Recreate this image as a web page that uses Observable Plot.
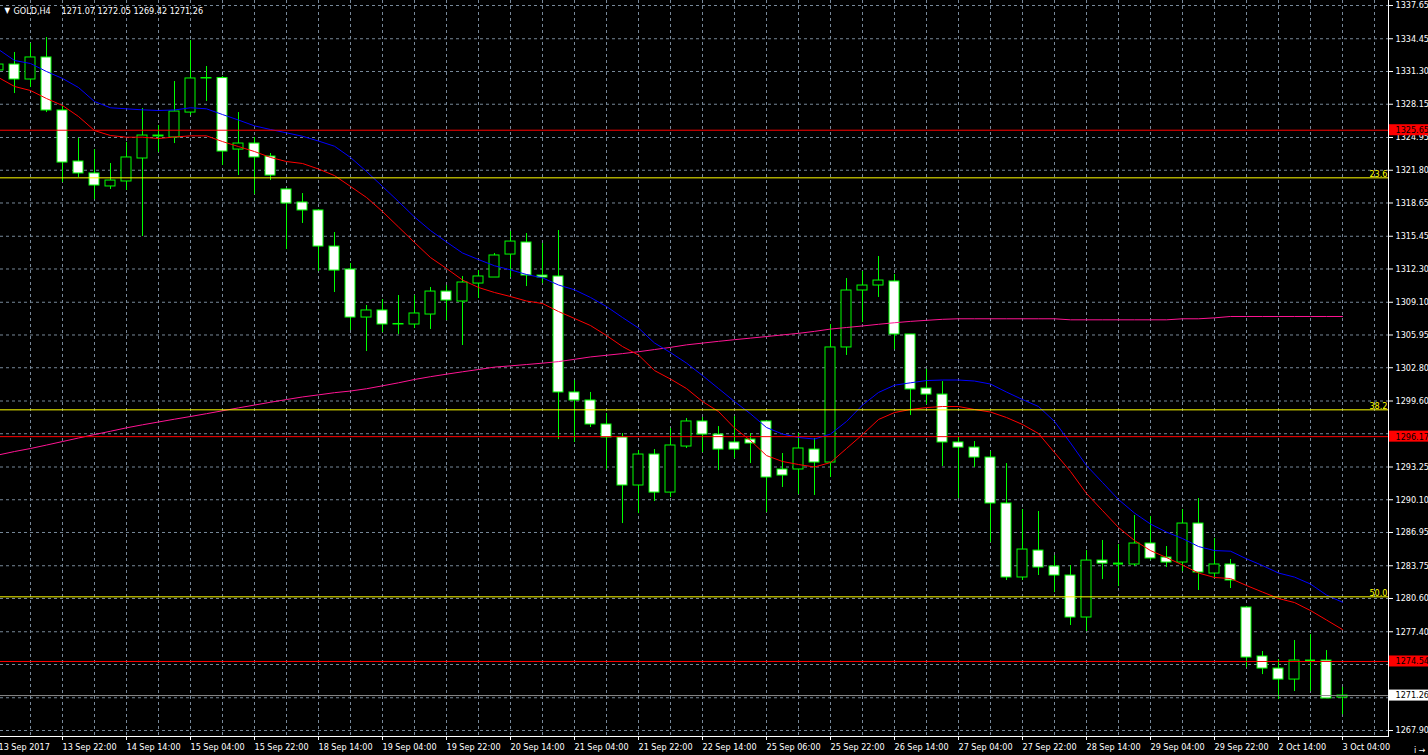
<!DOCTYPE html>
<html>
<head>
<meta charset="utf-8">
<script src="https://cdn.jsdelivr.net/npm/d3@7"></script>
<script src="https://cdn.jsdelivr.net/npm/@observablehq/plot@0.6"></script>
<style>
  html, body { margin: 0; padding: 0; background: #000; overflow: hidden; }
  #chart svg { display: block; }
</style>
</head>
<body>
<div id="chart"></div>
<script>
// ---- data (bar index -1 .. 83, 4-hour bars) ----
const opens = [1331.40,1331.97,1330.53,1332.65,1327.55,1322.64,1321.49,1320.24,1320.72,1322.93,1325.05,1324.95,1327.35,1330.63,1330.67,1323.79,1324.37,1323.12,1319.95,1318.70,1317.93,1314.46,1312.25,1307.63,1308.31,1307.01,1306.96,1307.92,1310.13,1309.17,1310.90,1311.48,1313.69,1314.85,1311.67,1311.58,1300.42,1299.65,1297.34,1296.09,1291.47,1294.45,1290.79,1295.22,1297.63,1296.37,1295.61,1295.89,1297.63,1293.01,1293.01,1294.93,1293.68,1304.75,1310.23,1310.71,1311.10,1306.00,1300.80,1300.22,1295.61,1295.12,1294.16,1289.74,1282.62,1285.21,1283.68,1282.81,1278.77,1284.25,1283.96,1283.87,1285.89,1284.54,1284.06,1287.81,1283.00,1283.87,1279.73,1275.02,1273.86,1272.80,1274.63,1274.63,1271.07];
const highs = [1332.16,1333.13,1333.99,1334.57,1327.93,1324.85,1323.79,1322.45,1324.47,1327.74,1326.10,1330.34,1334.28,1331.78,1330.82,1327.35,1324.95,1323.41,1320.04,1319.56,1318.02,1315.81,1312.83,1308.79,1309.36,1309.75,1309.75,1310.52,1310.71,1311.58,1312.15,1313.79,1315.91,1315.71,1314.75,1316.00,1301.57,1300.42,1298.40,1296.47,1294.84,1294.93,1296.95,1297.91,1298.01,1297.14,1298.11,1296.47,1297.72,1294.55,1296.47,1295.99,1306.96,1311.38,1312.06,1313.50,1311.77,1306.00,1302.63,1301.47,1296.09,1295.70,1294.74,1293.58,1289.16,1288.97,1284.73,1283.77,1285.21,1286.18,1285.79,1288.58,1288.49,1285.60,1289.16,1290.22,1286.37,1284.35,1279.83,1275.50,1274.73,1276.56,1277.13,1275.59,1272.05];
const lows = [1331.11,1329.18,1329.76,1327.35,1320.62,1321.10,1318.98,1319.95,1319.85,1315.42,1323.51,1324.37,1327.07,1328.41,1322.26,1321.29,1319.47,1320.81,1314.17,1316.68,1312.06,1310.04,1306.38,1304.36,1306.19,1306.00,1306.57,1306.48,1307.34,1304.94,1309.46,1311.48,1311.48,1310.61,1310.90,1295.89,1295.61,1297.05,1293.01,1287.81,1288.77,1289.93,1290.31,1295.03,1294.64,1292.91,1294.07,1293.58,1288.87,1291.28,1290.60,1290.51,1292.24,1303.98,1307.15,1309.56,1304.55,1298.20,1299.26,1293.30,1290.22,1293.20,1285.98,1282.33,1282.33,1282.81,1281.17,1278.00,1277.42,1282.42,1281.75,1283.68,1284.25,1283.58,1283.19,1281.37,1282.52,1281.56,1273.96,1273.28,1270.88,1271.65,1271.65,1270.98,1269.42];
const closes = [1331.97,1330.53,1332.65,1327.55,1322.54,1321.49,1320.33,1320.81,1323.03,1325.14,1325.14,1327.45,1330.63,1330.67,1323.60,1324.37,1323.03,1321.29,1318.60,1317.93,1314.46,1312.15,1307.63,1308.31,1306.96,1306.96,1308.02,1310.13,1309.27,1311.00,1311.58,1313.60,1314.94,1311.67,1311.48,1300.42,1299.65,1297.34,1296.09,1291.47,1294.45,1290.79,1295.32,1297.63,1296.37,1294.93,1294.93,1295.51,1292.24,1292.43,1295.03,1293.68,1304.75,1310.23,1310.71,1311.19,1306.00,1300.71,1300.22,1295.61,1295.12,1294.16,1289.74,1282.62,1285.31,1283.58,1282.81,1278.77,1284.25,1283.96,1283.96,1285.89,1284.45,1284.06,1287.81,1283.10,1283.87,1282.33,1274.92,1273.86,1272.80,1274.63,1274.63,1270.98,1271.26];

// moving averages read per bar
const maRed = [1330.72,1329.86,1329.47,1328.70,1328.03,1326.97,1325.62,1325.14,1324.98,1324.98,1324.85,1325.00,1325.11,1325.11,1324.56,1324.08,1323.60,1323.03,1322.64,1322.45,1321.92,1321.29,1320.24,1319.18,1317.83,1316.34,1314.85,1313.40,1312.35,1311.24,1310.52,1310.04,1309.65,1309.22,1308.98,1308.21,1307.54,1306.86,1305.90,1304.84,1304.02,1302.53,1301.71,1300.80,1299.55,1298.59,1297.00,1295.80,1294.35,1293.78,1293.49,1293.25,1293.68,1295.03,1296.37,1297.82,1298.49,1298.78,1298.97,1299.07,1299.07,1298.78,1298.54,1298.01,1297.34,1296.47,1294.64,1292.82,1290.70,1289.06,1287.43,1286.18,1285.21,1284.54,1283.82,1283.05,1282.62,1282.52,1281.85,1281.22,1280.60,1280.21,1279.44,1278.53,1277.61];
const maBlue = [1333.42,1332.36,1332.07,1331.30,1330.63,1329.76,1328.41,1327.81,1327.71,1327.61,1327.55,1327.60,1327.81,1327.71,1327.16,1326.63,1326.07,1325.72,1325.40,1325.07,1324.61,1324.11,1323.03,1321.68,1320.24,1318.79,1317.30,1316.00,1314.90,1313.84,1313.21,1312.61,1312.22,1311.77,1311.45,1310.76,1310.30,1309.56,1308.69,1307.63,1306.62,1305.18,1304.26,1303.25,1302.05,1300.80,1299.55,1298.37,1297.05,1296.42,1296.09,1295.94,1296.42,1297.63,1299.21,1300.42,1301.12,1301.35,1301.57,1301.62,1301.62,1301.52,1301.23,1300.46,1299.74,1299.07,1297.63,1295.56,1293.39,1291.76,1290.12,1288.82,1287.76,1286.99,1286.37,1285.60,1285.21,1285.15,1284.42,1283.77,1283.05,1282.66,1281.99,1280.93,1280.24];
const maPink = [1294.41,1294.74,1295.03,1295.36,1295.70,1296.04,1296.37,1296.69,1297.02,1297.31,1297.58,1297.85,1298.11,1298.38,1298.66,1298.94,1299.21,1299.48,1299.74,1299.99,1300.19,1300.40,1300.56,1300.78,1301.06,1301.35,1301.67,1301.94,1302.18,1302.41,1302.63,1302.86,1302.98,1303.11,1303.24,1303.39,1303.61,1303.84,1304.00,1304.16,1304.34,1304.55,1304.76,1305.00,1305.17,1305.34,1305.50,1305.65,1305.80,1305.96,1306.11,1306.30,1306.52,1306.67,1306.82,1306.98,1307.13,1307.26,1307.36,1307.46,1307.51,1307.51,1307.51,1307.51,1307.51,1307.51,1307.51,1307.41,1307.41,1307.41,1307.41,1307.41,1307.41,1307.41,1307.51,1307.51,1307.60,1307.73,1307.73,1307.73,1307.73,1307.73,1307.73,1307.73,1307.73];

// horizontal levels
const redLevels = [1325.65, 1296.17, 1274.54];
const fibPrices = [1321.07, 1298.75, 1280.76];
const fibLabels = ["23.6", "38.2", "50.0"];
const bidPrice = 1271.26;

// axis ticks
const yTicks = [1337.65,1334.45,1331.30,1328.15,1324.95,1321.80,1318.65,1315.45,1312.30,1309.10,1305.95,1302.80,1299.60,1296.45,1293.25,1290.10,1286.95,1283.75,1280.60,1277.40,1274.25,1271.05,1267.90];
const xTickIdx = [-1,3,7,11,15,19,23,27,31,35,39,43,47,51,55,59,63,67,71,75,79,83];
const xTickText = ["13 Sep 2017","13 Sep 22:00","14 Sep 14:00","15 Sep 04:00","15 Sep 22:00","18 Sep 14:00","19 Sep 04:00","19 Sep 22:00","20 Sep 14:00","21 Sep 04:00","21 Sep 22:00","22 Sep 14:00","25 Sep 06:00","25 Sep 22:00","26 Sep 14:00","27 Sep 04:00","27 Sep 22:00","28 Sep 14:00","29 Sep 04:00","29 Sep 22:00","2 Oct 14:00","3 Oct 04:00"];

const symbolText = "GOLD,H4";
const ohlcText = "1271.07 1272.05 1269.42 1271.26";

// ---- build ----
const bars = opens.map((o, j) => ({i: j - 1, open: o, high: highs[j], low: lows[j], close: closes[j]}));
const bull = bars.filter(d => d.close > d.open);
const bear = bars.filter(d => d.close < d.open);
const doji = bars.filter(d => d.close === d.open);
const labelMap = new Map(xTickIdx.map((k, j) => [k, xTickText[j]]));
const gridX = d3.range(1, 86, 2);
const priceBoxes = [
  ...redLevels.map(p => ({price: p, color: "#ff0000"})),
  {price: bidPrice, color: "#ffffff"}
];
// scale labels that sit under a price box are hidden, as in the terminal
const hiddenTick = t => priceBoxes.some(b => Math.abs(b.price - t) < 0.6);
const fib = fibPrices.map((p, j) => ({price: p, label: fibLabels[j]}));
const idx = (d, j) => j - 1;

const GRID = "#778899", LIME = "#00ff00";
const hw = 0.3125;
const FONT = "'DejaVu Sans Condensed', 'Liberation Sans', Arial, sans-serif";

const chart = Plot.plot({
  width: 1428,
  height: 755,
  marginLeft: 0,
  marginRight: 40,
  marginTop: 0,
  marginBottom: 19,
  x: {type: "linear", domain: [-1, 83], range: [-2, 1342]},
  y: {domain: [1267.90, 1337.65], range: [730, 5]},
  style: {background: "#000", color: "#fff", fontFamily: FONT, fontSize: "9px"},
  marks: [
    Plot.ruleX(gridX, {x: d => d, stroke: GRID, strokeDasharray: "3,3"}),
    Plot.ruleY(yTicks, {y: d => d, stroke: GRID, strokeDasharray: "3,3"}),
    Plot.ruleX(bars, {x: "i", y1: "low", y2: "high", stroke: LIME}),
    Plot.rect(bull, {x1: d => d.i - hw, x2: d => d.i + hw, y1: "open", y2: "close", fill: "#000", stroke: LIME}),
    Plot.rect(bear, {x1: d => d.i - hw, x2: d => d.i + hw, y1: "open", y2: "close", fill: "#fff", stroke: LIME}),
    Plot.ruleY(doji, {x1: d => d.i - hw, x2: d => d.i + hw, y: "open", stroke: LIME, strokeWidth: 2}),
    Plot.lineY(maPink, {x: idx, y: d => d, stroke: "#ff1493", strokeWidth: 1}),
    Plot.lineY(maBlue, {x: idx, y: d => d, stroke: "#0000ff", strokeWidth: 1}),
    Plot.lineY(maRed, {x: idx, y: d => d, stroke: "#ff0000", strokeWidth: 1}),
    Plot.ruleY(fibPrices, {y: d => d, stroke: "#ffff00"}),
    Plot.ruleY(redLevels, {y: d => d, stroke: "#ff0000"}),
    Plot.ruleY([bidPrice], {y: d => d, stroke: "#8c8c8c"}),
    Plot.text(fib, {y: "price", text: "label", frameAnchor: "right", dx: -1, dy: -1, textAnchor: "end", lineAnchor: "bottom", fill: "#ffff00"}),
    Plot.axisY({anchor: "right", ticks: yTicks, tickSize: 4, tickPadding: 3, tickFormat: d => hiddenTick(d) ? "" : d.toFixed(2), stroke: "#fff", fill: "#fff"}),
    Plot.axisX({anchor: "bottom", ticks: xTickIdx, tickSize: 4, tickPadding: 3, tickFormat: d => labelMap.get(d), textAnchor: "start", stroke: "#fff", fill: "#fff"}),
    Plot.frame({anchor: "right", stroke: "#fff"}),
    Plot.frame({anchor: "bottom", stroke: "#fff"}),
    Plot.text(priceBoxes, {y: "price", text: d => d.price.toFixed(2), frameAnchor: "right", dx: 7, textAnchor: "start", fill: "#000"}),
    Plot.text(["\u25BC"], {frameAnchor: "top-left", dx: 4, dy: 7, fontSize: 8, fill: "#fff"}),
    Plot.text([symbolText], {frameAnchor: "top-left", dx: 13, dy: 7, textAnchor: "start", fill: "#fff"}),
    Plot.text([ohlcText], {frameAnchor: "top-left", dx: 61, dy: 7, textAnchor: "start", fill: "#fff"})
  ]
});

document.getElementById("chart").appendChild(chart);

// background boxes for the price labels on the right scale
const ys = chart.scale("y");
const svg = d3.select(chart);
const boxLayer = svg.append("g");
priceBoxes.forEach(b => {
  boxLayer.append("rect")
    .attr("x", 1389)
    .attr("y", ys.apply(b.price) - 5.5)
    .attr("width", 39)
    .attr("height", 11)
    .attr("fill", b.color);
});
// bring the price-label texts above their boxes
const boxTexts = new Set(priceBoxes.map(b => b.price.toFixed(2)));
const groups = new Set();
svg.selectAll("text").each(function() {
  if (boxTexts.has(this.textContent) && this.getAttribute("fill") !== "#fff") groups.add(this.parentNode);
});
groups.forEach(g => d3.select(g).raise());
</script>
</body>
</html>
